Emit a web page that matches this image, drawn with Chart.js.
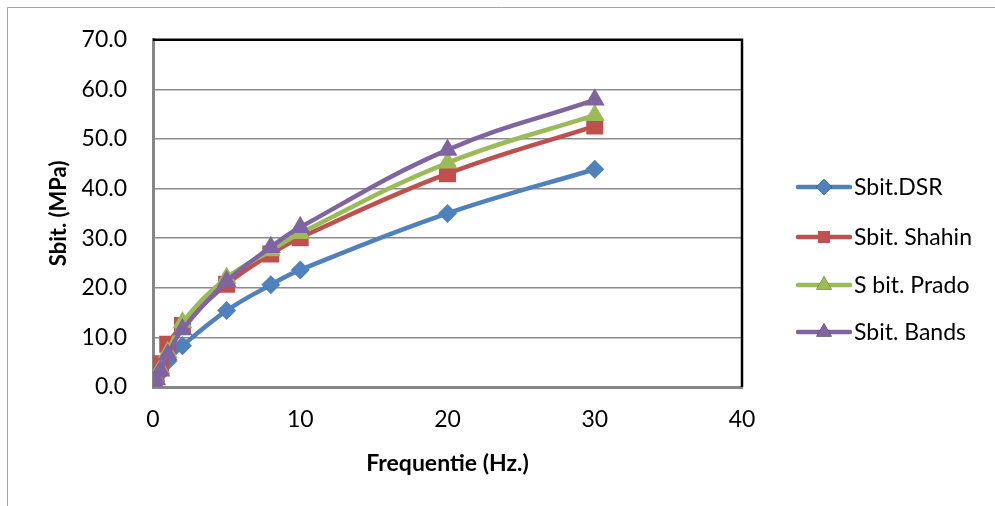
<!DOCTYPE html>
<html>
<head>
<meta charset="utf-8">
<script src="https://cdn.jsdelivr.net/npm/chart.js@4"></script>
<style>
  html, body { margin: 0; padding: 0; background: #fff; }
  #wrap { width: 995px; height: 506px; position: relative; }
</style>
</head>
<body>
<div id="wrap"><canvas id="lineChart" width="995" height="506"></canvas></div>
<script>
// データ
const freq = [0.1, 0.2, 0.5, 1, 2, 5, 8, 10, 20, 30];
const sbitDSR = [0.6, 1.2, 2.8, 5.2, 8.3, 15.4, 20.6, 23.6, 35.0, 43.9];
const sbitShahin = [1.3, 2.2, 4.7, 8.6, 12.4, 20.7, 26.8, 30.1, 43.0, 52.6];
const sbitPrado = [0.9, 1.7, 3.7, 7.0, 13.0, 22.0, 27.5, 31.0, 45.2, 54.8];
const sbitBands = [0.8, 1.5, 3.3, 6.5, 11.6, 21.3, 28.2, 32.2, 47.8, 57.9];
const seriesNames = ['Sbit.DSR', 'Sbit. Shahin', 'S bit. Prado', 'Sbit. Bands'];
const xTicks = [0, 10, 20, 30, 40];
const yTicks = [0, 10, 20, 30, 40, 50, 60, 70];

const FONT = 'Lato, "Liberation Sans", sans-serif';

function toPoints(ys) {
  return freq.map((f, i) => ({ x: f, y: ys[i] }));
}

function makeSet(label, ys, color, style, radius, order) {
  return {
    label: label,
    data: toPoints(ys),
    borderColor: color,
    backgroundColor: color,
    borderWidth: 4.5,
    pointStyle: style,
    pointRadius: radius,
    pointHoverRadius: radius,
    pointBorderWidth: 0,
    tension: 0.4,
    order: order,
  };
}

// 枠と凡例を描く
const framePlugin = {
  id: 'frame',
  beforeDraw(chart) {
    const ctx = chart.ctx;
    ctx.save();
    ctx.strokeStyle = '#a6a6a6';
    ctx.lineWidth = 1;
    ctx.beginPath();
    ctx.moveTo(7.5, 520);
    ctx.lineTo(7.5, 7.5);
    ctx.lineTo(1000, 7.5);
    ctx.stroke();
    ctx.restore();
  },
  afterDatasetsDraw(chart) {
    const ctx = chart.ctx;
    const a = chart.chartArea;
    ctx.save();
    ctx.strokeStyle = '#000';
    ctx.lineWidth = 2.5;
    ctx.beginPath();
    ctx.moveTo(a.left, a.top);
    ctx.lineTo(a.right, a.top);
    ctx.lineTo(a.right, a.bottom);
    ctx.stroke();

    // 凡例
    const rows = [187, 237, 285, 332];
    const legendSize = [8, 8.5, 9, 9];
    chart.data.datasets.forEach((ds, i) => {
      const y = rows[i];
      ctx.strokeStyle = ds.borderColor;
      ctx.lineWidth = 4.5;
      ctx.lineCap = 'round';
      ctx.beginPath();
      ctx.moveTo(798, y);
      ctx.lineTo(850, y);
      ctx.stroke();
      Chart.helpers.drawPoint(ctx, {
        pointStyle: ds.pointStyle,
        radius: legendSize[i],
        rotation: 0,
        borderWidth: 0,
      }, 824, y);
      ctx.fillStyle = ds.borderColor;
      ctx.fill();
      ctx.fillStyle = '#000';
      ctx.font = '23px ' + FONT;
      ctx.textBaseline = 'middle';
      ctx.textAlign = 'left';
      ctx.fillText(ds.label, 854, y + 1);
    });
    ctx.restore();
  }
};

let lineCtx = document.getElementById('lineChart');
let lineConfig = {
  type: 'line',
  data: {
    datasets: [
      makeSet(seriesNames[0], sbitDSR, '#4F81BD', 'rectRot', 9.5, 4),
      makeSet(seriesNames[1], sbitShahin, '#C0504D', 'rect', 12, 3),
      makeSet(seriesNames[2], sbitPrado, '#9BBB59', 'triangle', 11.5, 2),
      makeSet(seriesNames[3], sbitBands, '#8064A2', 'triangle', 11.5, 1),
    ],
  },
  options: {
    responsive: false,
    animation: false,
    layout: { padding: { left: 0, top: 37, right: 253, bottom: 0 } },
    plugins: {
      legend: { display: false },
      tooltip: { enabled: false },
    },
    scales: {
      x: {
        type: 'linear',
        min: 0,
        max: 40,
        afterFit(scale) { scale.height = 119; },
        afterBuildTicks(scale) { scale.ticks = xTicks.map(v => ({ value: v })); },
        grid: { display: false, drawTicks: false },
        border: { display: true, color: '#868686', width: 3 },
        ticks: {
          padding: 19,
          color: '#000',
          font: { family: FONT, size: 23 },
        },
        title: {
          display: true,
          text: 'Frequentie (Hz.)',
          color: '#000',
          font: { family: FONT, size: 23, weight: 'bold' },
          padding: { top: 29, bottom: 29 },
        },
      },
      y: {
        min: 0,
        max: 70,
        afterFit(scale) { scale.width = 153; },
        afterBuildTicks(scale) { scale.ticks = yTicks.map(v => ({ value: v })); },
        grid: { color: '#8c8c8c', lineWidth: 1.5, drawTicks: false },
        border: { display: true, color: '#868686', width: 3 },
        ticks: {
          padding: 26,
          color: '#000',
          font: { family: FONT, size: 23 },
          callback: v => v.toFixed(1),
        },
        title: {
          display: true,
          text: 'Sbit. (MPa)',
          color: '#000',
          font: { family: FONT, size: 22, weight: 'bold' },
          padding: { top: 46, bottom: 0 },
        },
      },
    },
  },
  plugins: [framePlugin],
};
let lineChart = new Chart(lineCtx, lineConfig);
</script>
</body>
</html>
